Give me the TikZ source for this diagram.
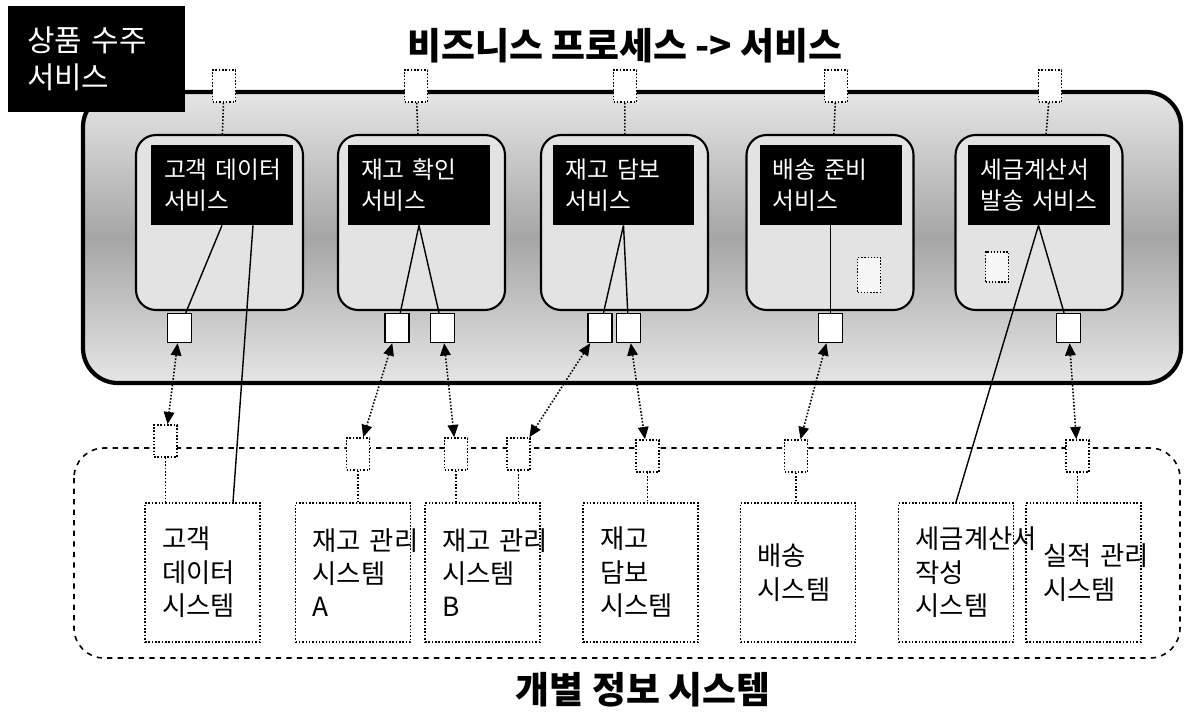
\documentclass[tikz,border=0pt]{standalone}
\usepackage{fontspec}
\setmainfont{Noto Sans CJK KR}
\usetikzlibrary{arrows.meta,positioning}

\begin{document}
\begin{tikzpicture}[x=0.02cm,y=-0.02cm,
  svcbox/.style={draw,line width=1.2pt,rounded corners=0.4cm,fill=gray!22,minimum width=3.34cm,minimum height=3.5cm},
  svchead/.style={fill=black,text=white,minimum width=2.84cm,minimum height=1.6cm,inner xsep=0.26cm,text width=2.32cm,align=left,font=\fontsize{13.5}{18}\selectfont},
  port/.style={draw,densely dotted,line width=0.9pt,fill=white,minimum width=0.46cm,minimum height=0.64cm,inner sep=0pt},
  svcport/.style={draw,line width=0.8pt,fill=white,minimum width=0.48cm,minimum height=0.58cm,inner sep=0pt},
  memo/.style={draw,densely dotted,line width=0.8pt,fill=gray!6,minimum width=0.46cm,inner sep=0pt},
  sysbox/.style={draw,densely dotted,line width=0.9pt,minimum width=2.3cm,minimum height=2.78cm,inner xsep=0.34cm,text width=1.62cm,align=left,font=\fontsize{15}{19}\selectfont},
  link/.style={densely dotted,line width=0.9pt},
  call/.style={link,{Triangle[length=7pt,width=6pt]}-{Triangle[length=7pt,width=6pt]}},
  wire/.style={line width=0.8pt}]
  \useasboundingbox (0,0) rectangle (1189,711);
  % service layer
  \draw [line width=2.4pt,rounded corners=0.7cm,top color=gray!20,bottom color=gray!20,middle color=gray!70] (83,92) rectangle (1181,383);
  \node [fill=black,text=white,minimum width=3.54cm,minimum height=2.12cm,inner xsep=0.38cm,text width=2.78cm,align=left,font=\fontsize{17}{21}\selectfont] (tag) at (96.5,59) {\mbox{상품 수주}\\서비스};
  \node [font=\fontsize{21}{25}\selectfont\bfseries] (title) at (625,46) {비즈니스 프로세스 -> 서비스};

  \node [svcbox] (svc1) at (219.5,222.5) {};
  \node [svcbox] (svc2) at (421.5,222.5) {};
  \node [svcbox] (svc3) at (624.5,222.5) {};
  \node [svcbox] (svc4) at (830,222.5) {};
  \node [svcbox] (svc5) at (1039,222.5) {};
  \node [svchead] (hd1) at (222,185) {\mbox{고객 데이터}\\서비스};
  \node [svchead] (hd2) at (419,185) {\mbox{재고 확인}\\서비스};
  \node [svchead] (hd3) at (623.5,185) {\mbox{재고 담보}\\서비스};
  \node [svchead] (hd4) at (830.5,185) {\mbox{배송 준비}\\서비스};
  \node [svchead] (hd5) at (1038.5,185) {세금계산서\\\mbox{발송 서비스}};
  \node [memo,minimum height=0.7cm] (memo4) at (869,275) {};
  \node [memo,minimum height=0.6cm] (memo5) at (997,267) {};

  \node [port] (tp1) at (224,86) {};
  \node [port] (tp2) at (416,86) {};
  \node [port] (tp3) at (625,86) {};
  \node [port] (tp4) at (836,86) {};
  \node [port] (tp5) at (1050,86) {};
  \draw [link] (tp1) -- (svc1) (tp2) -- (svc2) (tp3) -- (svc3) (tp4) -- (svc4) (tp5) -- (svc5);

  \node [svcport] (bp1) at (179.5,328) {};
  \node [svcport] (bp2a) at (397,328) {};
  \node [svcport] (bp2b) at (442.5,328) {};
  \node [svcport] (bp3a) at (600,328) {};
  \node [svcport] (bp3b) at (628.5,328) {};
  \node [svcport] (bp4) at (830.5,328) {};
  \node [svcport] (bp5) at (1068.5,328) {};

  % individual systems
  \draw [dashed,line width=0.9pt,rounded corners=0.6cm] (74,448) rectangle (1180,658);
  \node [sysbox] (sys1) at (202.5,572.5) {고객\\데이터\\시스템};
  \node [sysbox] (sys2) at (353,572.5) {\mbox{재고 관리}\\시스템\\A};
  \node [sysbox] (sys3) at (482.5,572.5) {\mbox{재고 관리}\\시스템\\B};
  \node [sysbox] (sys4) at (640.5,572.5) {재고\\담보\\시스템};
  \node [sysbox] (sys5) at (798,572.5) {배송\\시스템};
  \node [sysbox] (sys6) at (956,572.5) {세금계산서\\작성\\시스템};
  \node [sysbox] (sys7) at (1083.5,572.5) {\mbox{실적 관리}\\시스템};
  \node [port] (ip1) at (165.5,441) {};
  \node [port] (ip2) at (358,454) {};
  \node [port] (ip3a) at (456,454) {};
  \node [port] (ip3b) at (518.5,454) {};
  \node [port] (ip4) at (647.5,456) {};
  \node [port] (ip5) at (796,456) {};
  \node [port] (ip7) at (1077.5,456) {};
  \draw [link] (ip1) -- (ip1 |- sys1.north) (ip2) -- (ip2 |- sys2.north) (ip3a) -- (ip3a |- sys3.north) (ip3b) -- (ip3b |- sys3.north);
  \draw [link] (ip4) -- (ip4 |- sys4.north) (ip5) -- (ip5 |- sys5.north) (ip7) -- (ip7 |- sys7.north);

  \draw [wire] (hd1.south) -- (bp1);
  \draw [wire] ([xshift=0.62cm]hd1.south) -- ([xshift=0.61cm]sys1.north);
  \draw [wire] (hd2.south) -- (bp2a) (hd2.south) -- (bp2b);
  \draw [wire] (hd3.south) -- (bp3a) (hd3.south) -- (bp3b);
  \draw [wire] (hd4.south) -- (bp4);
  \draw [wire] (hd5.south) -- (bp5) (hd5.south) -- (sys6.north);

  \draw [call] (bp1) -- (ip1);
  \draw [call] (bp2a) -- (ip2);
  \draw [call] (bp2b) -- (ip3a);
  \draw [call] (bp3a) -- (ip3b);
  \draw [call] (bp3b) -- (ip4);
  \draw [call] (bp4) -- (ip5);
  \draw [call] (bp5) -- (ip7);

  \node [font=\fontsize{21}{25}\selectfont\bfseries] (bottomtitle) at (643,690) {개별 정보 시스템};
\end{tikzpicture}
\end{document}
